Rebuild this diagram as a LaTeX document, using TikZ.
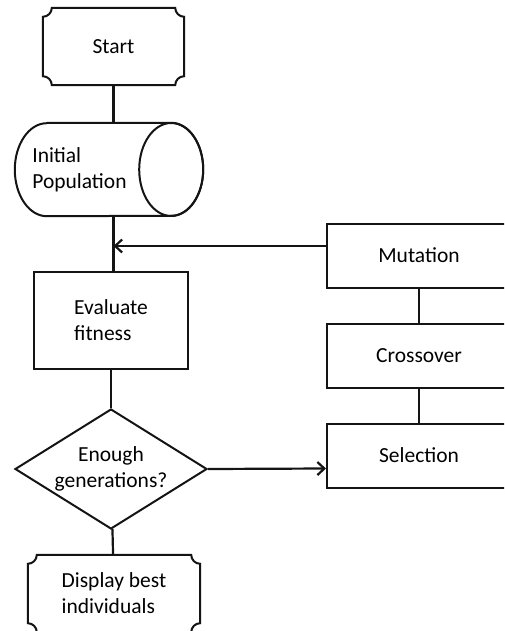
\documentclass[tikz,border=0pt]{standalone}
\usepackage{fontspec}
\setmainfont{Carlito}
\usepackage{tikz}
\usetikzlibrary{arrows.meta,shapes,positioning}
\definecolor{galine}{RGB}{20,20,20}
\tikzstyle{arrow} = [line width=2.2pt,-{Straight Barb[length=7pt,width=13pt]},color=galine]
\tikzstyle{link} = [line width=2.2pt,color=galine]
\tikzstyle{process} = [rectangle, minimum width=154pt, minimum height=97pt, align=left, draw=galine, line width=2pt]
\tikzstyle{operator} = [rectangle, minimum width=184pt, minimum height=64pt, draw=galine, line width=2pt]
\tikzstyle{decision} = [diamond, aspect=1.6, minimum width=192pt, minimum height=120pt, inner sep=0pt, align=center, draw=galine, line width=2pt]
\tikzstyle{terminal} = [rectangle, minimum height=77pt, align=left]
\tikzstyle{store} = [rectangle, minimum width=188pt, minimum height=93pt]
% box with hollow corners
\newcommand{\plaque}[1]{%
  \draw[link, line width=2pt] ([xshift=9pt]#1.north west) -- ([xshift=-9pt]#1.north east)
    arc[start angle=180,end angle=270,radius=9pt] -- ([yshift=9pt]#1.south east)
    arc[start angle=90,end angle=180,radius=9pt] -- ([xshift=9pt]#1.south west)
    arc[start angle=0,end angle=90,radius=9pt] -- ([yshift=-9pt]#1.north west)
    arc[start angle=270,end angle=360,radius=9pt] -- cycle;}

\begin{document}
\begin{tikzpicture}[x=1pt, y=1pt, font=\fontsize{21.5}{26}\selectfont]
\useasboundingbox (0,0) rectangle (504,-631);
\clip (0,0) rectangle (504,-631);
% main column
\node (start) [terminal, minimum width=141pt] at (113.5,-46.5) {Start};
\plaque{start}
\node (pop) [store] at (109,-169.5) {};
\draw[link, line width=2pt] ([xshift=32pt]pop.north west) -- ([xshift=-32pt]pop.north east)
  arc[start angle=90,end angle=-90,x radius=32pt,y radius=46.5pt] -- ([xshift=32pt]pop.south west)
  arc[start angle=270,end angle=90,x radius=32pt,y radius=46.5pt];
\draw[link, line width=2pt] ([xshift=-32pt]pop.east) ellipse [x radius=32pt,y radius=46.5pt];
\node (poptext) [anchor=west, align=left] at ([xshift=14pt]pop.west) {Initial\\Population};
\node (eval) [process] at (111,-320.5) {Evaluate\\fitness};
\node (enough) [decision] at (111,-469) {Enough\\generations?};
\node (show) [terminal, minimum width=172pt] at (114,-593.5) {Display best\\individuals};
\plaque{show}

% genetic operators
\node (mut) [operator] at (419,-255.5) {Mutation};
\node (cross) [operator, below=34pt of mut] {Crossover};
\node (sel) [operator, below=34pt of cross] {Selection};

\coordinate (mutin) at ([yshift=9.5pt]mut.west);
\draw[link] (start) -- (start |- pop.north);
\draw[link] (start |- pop.south) -- (start |- eval.north);
\draw[arrow] (mutin) -- (mutin -| start);
\draw[link] (eval) -- (enough);
\draw[link] (enough) -- (show);
\draw[arrow] (enough.east) -- ([yshift=-13pt]sel.west);
\draw[link] (mut) -- (cross);
\draw[link] (cross) -- (sel);
\end{tikzpicture}
\end{document}
